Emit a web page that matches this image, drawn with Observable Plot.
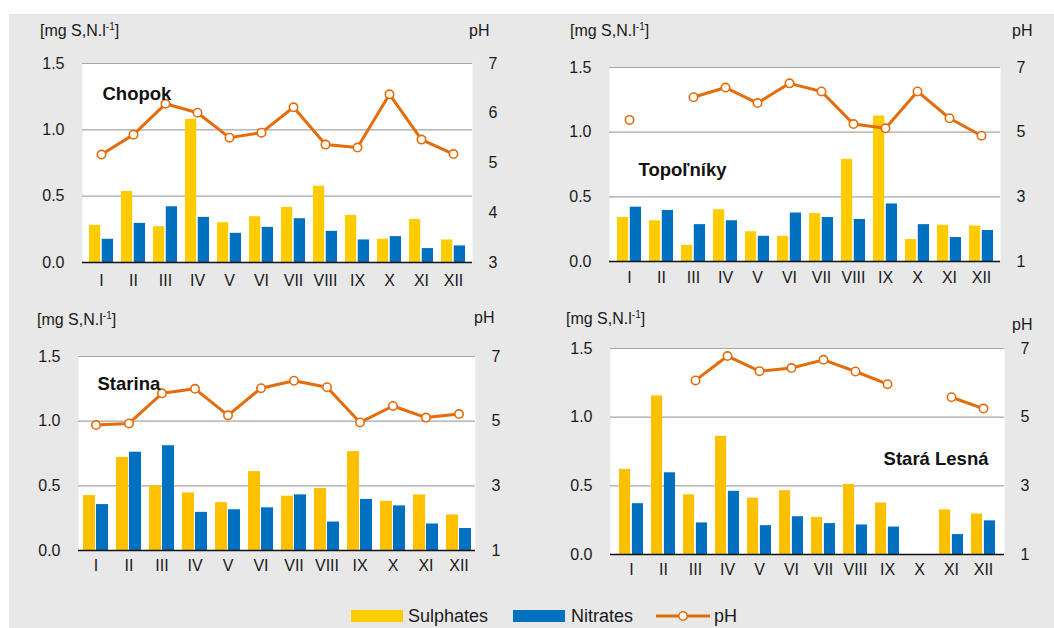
<!DOCTYPE html>
<html>
<head>
<meta charset="utf-8">
<script src="https://cdn.jsdelivr.net/npm/d3@7"></script>
<script src="https://cdn.jsdelivr.net/npm/@observablehq/plot@0.6"></script>
<style>
  body { margin: 0; background: #fff; font-family: "Liberation Sans", Arial, sans-serif; }
  #root { position: relative; width: 1054px; height: 628px; overflow: hidden; }
  #bg { position: absolute; left: 9px; top: 14px; width: 1045px; height: 614px; background: #e8e8e8; }
  .panel { position: absolute; }
  .lbl { position: absolute; font-size: 16px; line-height: 18px; color: #1a1a1a; white-space: nowrap; }
  .lbl sup { font-size: 10px; vertical-align: 6px; line-height: 0; }
  #legend { position: absolute; left: 0; top: 604px; width: 1054px; height: 22px; font-size: 18px; color: #1a1a1a; }
  .sw { position: absolute; top: 6px; width: 52px; height: 12px; }
  .lt { position: absolute; top: 1px; line-height: 22px; }
</style>
</head>
<body>
<div id="root">
  <div id="bg"></div>
</div>
<script>
// ---- data ----
const months = ["I","II","III","IV","V","VI","VII","VIII","IX","X","XI","XII"];

const chopokSulphates = [0.28,0.535,0.27,1.08,0.30,0.345,0.415,0.575,0.355,0.175,0.325,0.17];
const chopokNitrates  = [0.175,0.295,0.42,0.34,0.22,0.265,0.33,0.235,0.17,0.195,0.105,0.125];
const chopokPH        = [5.17,5.57,6.19,6.01,5.51,5.61,6.12,5.37,5.31,6.38,5.47,5.18];

const topolSulphates = [0.34,0.315,0.125,0.40,0.23,0.195,0.37,0.79,1.125,0.17,0.28,0.275];
const topolNitrates  = [0.42,0.395,0.285,0.315,0.195,0.375,0.34,0.325,0.445,0.285,0.185,0.24];
const topolPH        = [5.38,null,6.08,6.38,5.90,6.51,6.26,5.25,5.12,6.26,5.43,4.89];

const starinaSulphates = [0.425,0.72,0.50,0.445,0.37,0.61,0.42,0.48,0.765,0.38,0.43,0.275];
const starinaNitrates  = [0.355,0.76,0.81,0.295,0.315,0.33,0.43,0.22,0.395,0.345,0.205,0.17];
const starinaPH        = [4.88,4.93,5.86,6.00,5.18,6.02,6.25,6.05,4.96,5.47,5.11,5.22];

const staraSulphates = [0.62,1.155,0.435,0.86,0.41,0.465,0.27,0.51,0.375,null,0.325,0.295];
const staraNitrates  = [0.37,0.595,0.23,0.46,0.21,0.275,0.225,0.215,0.20,null,0.145,0.245];
const staraPH        = [null,null,6.07,6.78,6.34,6.43,6.67,6.33,5.96,null,5.58,5.25];

const concTicks = [0, 0.5, 1.0, 1.5];
const chopokPHTicks = [3, 4, 5, 6, 7];
const otherPHTicks = [1, 3, 5, 7];

const unitLabel = "[mg S,N.l<sup>-1</sup>]";
const legendNames = ["Sulphates", "Nitrates", "pH"];

const colNitr = "#0070c0";
const colPH = "#e46c0a";

// ---- panels ----
const panels = [
  {name: "Chopok", s: chopokSulphates, n: chopokNitrates, ph: chopokPH, phDomain: [3,7], phTicks: chopokPHTicks,
   left: 0, top: 0, width: 527, height: 290, margins: [63, 55, 28, 82], tickPad: 12, yellow: "#ffcc00",
   title: {anchor: "top-left", dx: 20, dy: 23},
   unit: [40, 31], phLbl: [469, 31]},
  {name: "Topoľníky", s: topolSulphates, n: topolNitrates, ph: topolPH, phDomain: [1,7], phTicks: otherPHTicks,
   left: 527, top: 0, width: 527, height: 290, margins: [67, 54, 29, 82], tickPad: 10, yellow: "#ffcc00",
   title: {anchor: "top-left", dx: 29, dy: 95},
   unit: [570, 31], phLbl: [1012, 31]},
  {name: "Starina", s: starinaSulphates, n: starinaNitrates, ph: starinaPH, phDomain: [1,7], phTicks: otherPHTicks,
   left: 0, top: 290, width: 527, height: 300, margins: [66, 52, 40, 78], tickPad: 9, yellow: "#ffc000",
   title: {anchor: "top-left", dx: 19, dy: 20},
   unit: [37, 320], phLbl: [474, 318]},
  {name: "Stará Lesná", s: staraSulphates, n: staraNitrates, ph: staraPH, phDomain: [1,7], phTicks: otherPHTicks,
   left: 527, top: 290, width: 527, height: 300, margins: [58, 50, 36, 83], tickPad: 9, yellow: "#ffc000",
   title: {anchor: "top-right", dx: -16, dy: 103},
   unit: [566, 319], phLbl: [1012, 325]}
];

const root = document.getElementById("root");
const PI = 0.25, PO = 0.14;

for (const p of panels) {
  const [mt, mr, mb, ml] = p.margins;
  const W = p.width - ml - mr;
  const step = W / (months.length - PI + 2 * PO);
  const half = step * (1 - PI) / 2;
  const [p0, p1] = p.phDomain;
  const toY = v => v == null ? NaN : (v - p0) / (p1 - p0) * 1.5;
  const fromY = y => p0 + y / 1.5 * (p1 - p0);

  const rows = months.map((m, i) => ({month: m, s: p.s[i], n: p.n[i], ph: p.ph[i]}));

  const chart = Plot.plot({
    width: p.width, height: p.height,
    marginTop: mt, marginRight: mr, marginBottom: mb, marginLeft: ml,
    style: {fontFamily: "'Liberation Sans', Arial, sans-serif", fontSize: "16px", color: "#1a1a1a", background: "transparent", overflow: "visible"},
    x: {type: "band", domain: months, paddingInner: PI, paddingOuter: PO, label: null},
    y: {domain: [0, 1.5], label: null},
    marks: [
      Plot.frame({fill: "white", stroke: null}),
      Plot.ruleY([0.5, 1.0, 1.5], {stroke: "#a6a6a6", strokeWidth: 1.2}),
      Plot.barY(rows.filter(d => d.s != null), {x: "month", y: "s", fill: p.yellow, insetRight: half + 0.6}),
      Plot.barY(rows.filter(d => d.n != null), {x: "month", y: "n", fill: colNitr, insetLeft: half + 0.6}),
      Plot.ruleY([0], {stroke: "#111", strokeWidth: 1.5}),
      Plot.line(rows, {x: "month", y: d => toY(d.ph), stroke: colPH, strokeWidth: 3}),
      Plot.dot(rows.filter(d => d.ph != null), {x: "month", y: d => toY(d.ph), r: 4.2, fill: "white", stroke: colPH, strokeWidth: 1.6}),
      Plot.axisX({tickSize: 0, tickPadding: p.tickPad, fontSize: 16}),
      Plot.axisY(concTicks, {anchor: "left", tickSize: 0, tickPadding: 18, tickFormat: d3.format(".1f"), fontSize: 16}),
      Plot.axisY(p.phTicks.map(toY), {anchor: "right", tickSize: 0, tickPadding: 16, tickFormat: d => String(Math.round(fromY(d))), fontSize: 16}),
      Plot.text([p.name], {text: d => d, frameAnchor: p.title.anchor, textAnchor: p.title.anchor === "top-right" ? "end" : "start",
        dx: p.title.dx, dy: p.title.dy, fontWeight: "bold", fontSize: 18.5, fill: "#111"})
    ]
  });
  chart.classList.add("panel");
  chart.style.left = p.left + "px";
  chart.style.top = p.top + "px";
  root.appendChild(chart);

  const u = document.createElement("div");
  u.className = "lbl";
  u.innerHTML = unitLabel;
  u.style.left = p.unit[0] + "px";
  u.style.top = (p.unit[1] - 9) + "px";
  root.appendChild(u);

  const ph = document.createElement("div");
  ph.className = "lbl";
  ph.textContent = "pH";
  ph.style.left = p.phLbl[0] + "px";
  ph.style.top = (p.phLbl[1] - 9) + "px";
  root.appendChild(ph);
}

// ---- legend ----
const leg = document.createElement("div");
leg.id = "legend";
leg.innerHTML = `
  <div class="sw" style="left:351px;background:#ffcc00"></div>
  <div class="lt" style="left:408px">${legendNames[0]}</div>
  <div class="sw" style="left:513px;background:${colNitr}"></div>
  <div class="lt" style="left:571px">${legendNames[1]}</div>
  <svg style="position:absolute;left:654px;top:2px" width="58" height="20">
    <line x1="2" x2="56" y1="10" y2="10" stroke="${colPH}" stroke-width="3"/>
    <circle cx="29" cy="10" r="4.2" fill="white" stroke="${colPH}" stroke-width="1.6"/>
  </svg>
  <div class="lt" style="left:714px">${legendNames[2]}</div>`;
root.appendChild(leg);
</script>
</body>
</html>
